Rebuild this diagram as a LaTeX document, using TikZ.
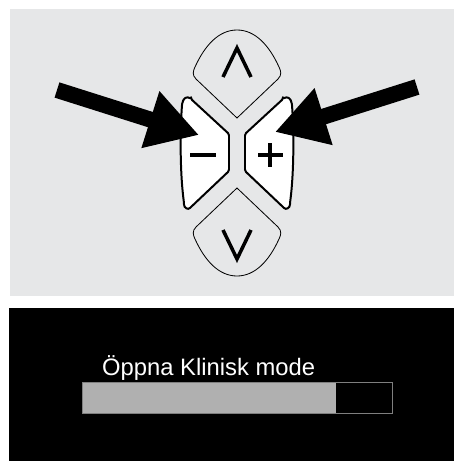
\documentclass[tikz,border=0pt]{standalone}
\usepackage{fontspec}
\setmainfont{Liberation Sans}
\usepackage{xcolor}
\usepackage{tikz}
\usetikzlibrary{arrows.meta}
\definecolor{panel}{HTML}{E6E7E8}
\definecolor{barfill}{HTML}{B0B0B0}
\definecolor{barrule}{HTML}{7F7F7F}
\tikzset{
  keyup/.style={draw=black, line width=0.7pt, fill=panel},
  keyside/.style={draw=black, line width=1.7pt, fill=white, rounded corners=1.2pt},
  glyph/.style={line width=3pt, draw=black},
  push/.style={-{Triangle[length=15.3mm,width=16.8mm]}, line width=4.8mm, draw=black},
  msg/.style={font=\fontsize{20.3}{24}\selectfont, text=white, inner sep=0pt,
              anchor=base west},
}

\begin{document}
\begin{tikzpicture}[x=0.3mm, y=-0.3mm]
  \useasboundingbox (0,0) rectangle (454,461);
  \fill[white] (0,0) rectangle (454,461);

  % oberer Teil: Tastenfeld
  \fill[panel] (10,9) rectangle (454,296);
  \begin{scope}[shift={(237,153)}]
    \def\tipkey{(0,-35) -- (-41,-74) .. controls (-45,-78) and (-44,-82) .. (-42,-86)
         .. controls (-32,-108) and (-18,-123) .. (0,-123)
         .. controls (18,-123) and (32,-108) .. (42,-86)
         .. controls (44,-82) and (45,-78) .. (41,-74) -- cycle}
    \def\sidekey{(-46,-54) -- (-8,-19) -- (-8,18) -- (-46,54)
         .. controls (-49,57) and (-53,55) .. (-53,50)
         .. controls (-57,20) and (-57,-20) .. (-55,-48)
         .. controls (-54,-55) and (-50,-57) .. (-46,-54) -- cycle}
    \draw[keyup] \tipkey;
    \draw[keyup, yscale=-1] \tipkey;
    \draw[keyside] \sidekey;
    \draw[keyside, xscale=-1] \sidekey;
  \end{scope}

  % Symbole auf den Tasten
  \draw[glyph] (223,77) -- (237,48) -- (251,77);
  \draw[glyph] (223,230) -- (237,259) -- (251,230);
  \draw[glyph, line width=3.4pt] (190,155) -- (216,155);
  \draw[glyph, line width=3.2pt] (258,155) -- (283,155) (270,143) -- (270,167);

  % Pfeile auf - und +
  \coordinate (ltail) at (57,90);
  \coordinate (ltip)  at (199,135);
  \coordinate (rtail) at (417,87);
  \coordinate (rtip)  at (275,132);
  \draw[push] (ltail) -- (ltip);
  \draw[push] (rtail) -- (rtip);

  % unterer Teil: Anzeige
  \fill[black] (9,308) rectangle (454,461);
  \node[msg] (title) at (102,375) {Öppna Klinisk mode};
  \fill[barfill] (82,382) rectangle (336,413);
  \draw[barrule, line width=0.6pt] (82,382) rectangle (392,413);
\end{tikzpicture}
\end{document}
